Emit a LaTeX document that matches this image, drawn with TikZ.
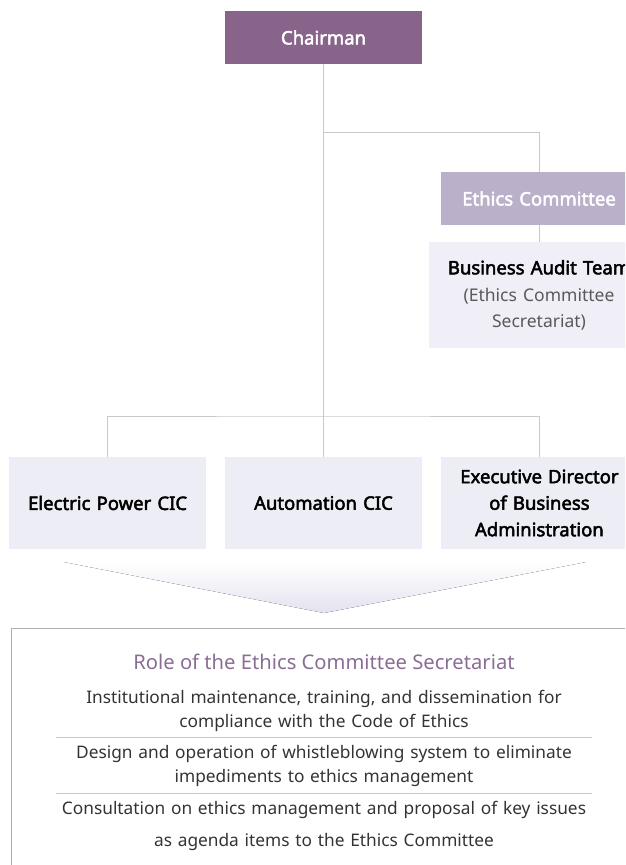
\documentclass[tikz,border=0pt]{standalone}
\usepackage{fontspec}
\setmainfont{Noto Sans}[BoldFont={Noto Sans},BoldFeatures={FakeBold=2.6}]
\usepackage{tikz}
\usetikzlibrary{positioning}
\usepackage{xcolor}
\definecolor{chairfill}{HTML}{88648A}
\definecolor{ethicsfill}{HTML}{BAB0CA}
\definecolor{auditfill}{HTML}{F0EEF6}
\definecolor{unitfill}{HTML}{EDEDF5}
\definecolor{linkgray}{HTML}{C8C8C8}
\definecolor{framegray}{HTML}{B0B0B0}
\definecolor{roletitle}{HTML}{8A6D95}
\definecolor{chevfill}{HTML}{E4E2EF}
\definecolor{bodytext}{HTML}{333333}

\begin{document}
\begin{tikzpicture}[
  x=1pt, y=-1pt,
  node distance=18.5pt,
  orgbox/.style={minimum width=197pt,inner sep=0pt,align=center,text width=195pt,font=\fontsize{18.5}{26.5}\selectfont\bfseries},
  link/.style={draw=linkgray,line width=1pt},
  roletext/.style={align=center,text width=560pt,inner sep=0pt,text=bodytext,font=\fontsize{17.3}{24}\selectfont}
]
\useasboundingbox (0,0) rectangle (625,865);
\clip (0,0) rectangle (625,865);
\node[orgbox,fill=chairfill,text=white,minimum height=53pt] (chair) at (323.5,37.5) {Chairman};
\node[orgbox,fill=ethicsfill,text=white,minimum height=53pt] (ethics) at (539,198.5) {Ethics Committee};
\node[orgbox,fill=auditfill,minimum height=106pt,below=17pt of ethics,text width=220pt] (audit)
  {Business Audit Team\\[1pt]{\mdseries\fontsize{17.5}{26}\selectfont\color{black!65}(Ethics Committee\\Secretariat)}};
\node[orgbox,fill=unitfill,minimum height=92pt] (auto) at (323.5,503) {Automation CIC};
\node[orgbox,fill=unitfill,minimum height=92pt,left=of auto] (elec) {Electric Power CIC};
\node[orgbox,fill=unitfill,minimum height=92pt,right=of auto] (exec) {Executive Director\\of Business\\Administration};
\coordinate (branch) at (323.5,132);
\coordinate (bus) at (323.5,416);
\draw[link] (chair) -- (auto);
\draw[link] (branch) -| (ethics);
\draw[link] (ethics) -- (audit);
\draw[link] (elec.north) |- (bus) -| (exec.north);
% arrow into the role box
\fill[top color=white,bottom color=chevfill] (64,562) -- (586,562) -- (324,613) -- cycle;
\draw[draw=framegray,line width=1pt] (11,628) rectangle (660,900);
\node[text=roletitle,font=\fontsize{20.2}{22}\selectfont] (role) at (324,662) {Role of the Ethics Committee Secretariat};
\node[roletext] (duty1) at (324,711) {Institutional maintenance, training, and dissemination for\\compliance with the Code of Ethics};
\node[roletext] (duty2) at (324,766) {Design and operation of whistleblowing system to eliminate\\impediments to ethics management};
\node[roletext,font=\fontsize{17.3}{32}\selectfont] (duty3) at (324,826) {Consultation on ethics management and proposal of key issues\\as agenda items to the Ethics Committee};
\draw[link] (56,737) -- (592,737);
\draw[link] (56,793) -- (592,793);
\end{tikzpicture}
\end{document}
